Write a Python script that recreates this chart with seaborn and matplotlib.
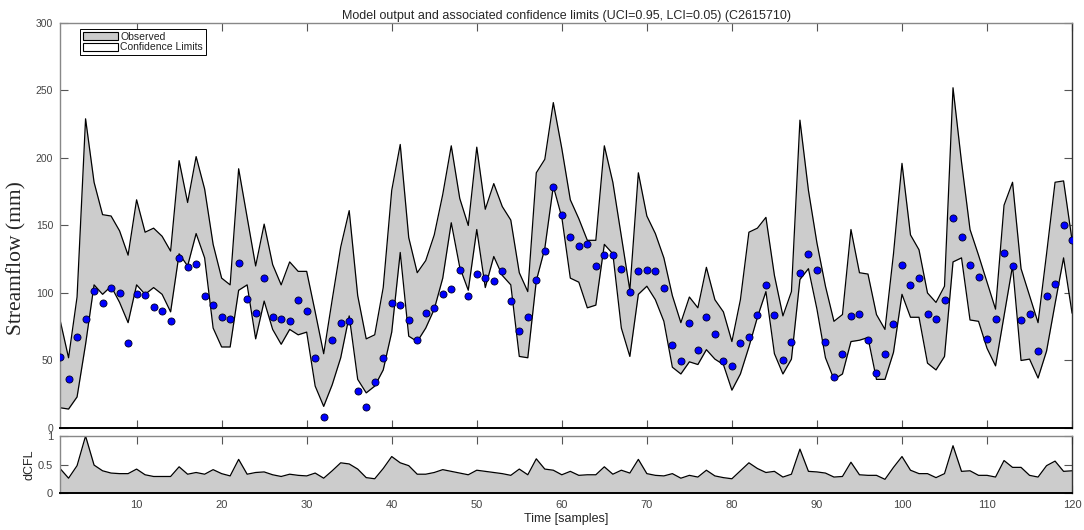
import numpy as np
import pandas as pd
import seaborn as sns
import matplotlib
matplotlib.use("Agg")
import matplotlib.pyplot as plt
from matplotlib.patches import Patch

# values (samples 1..120)
upper = [80, 52, 97, 229, 182, 158, 157, 146, 128, 169,
         145, 148, 142, 131, 198, 167, 201, 177, 136, 111,
         106, 192, 156, 120, 151, 121, 106, 123, 116, 116,
         86, 55, 95, 134, 161, 98, 66, 69, 104, 176,
         210, 141, 115, 124, 143, 173, 209, 170, 150, 208,
         162, 181, 164, 154, 115, 101, 189, 199, 241, 207,
         169, 155, 139, 139, 209, 182, 142, 102, 189, 157,
         144, 126, 98, 78, 97, 89, 119, 95, 86, 64,
         95, 145, 148, 156, 113, 83, 101, 228, 176, 137,
         105, 79, 84, 147, 115, 114, 84, 73, 129, 196,
         143, 132, 100, 93, 105, 252, 197, 147, 128, 108,
         88, 165, 182, 118, 98, 78, 129, 182, 183, 139]

lower = [15, 14, 23, 62, 106, 99, 105, 93, 78, 106,
         99, 104, 99, 86, 129, 120, 144, 126, 74, 60,
         60, 102, 106, 66, 94, 73, 62, 73, 69, 71,
         31, 16, 32, 52, 83, 36, 26, 31, 43, 71,
         130, 68, 64, 74, 88, 111, 152, 119, 102, 147,
         104, 127, 113, 106, 53, 52, 109, 133, 179, 156,
         111, 108, 89, 91, 136, 129, 74, 53, 99, 105,
         95, 79, 45, 40, 49, 47, 58, 51, 47, 28,
         40, 60, 82, 101, 55, 40, 51, 110, 118, 88,
         52, 36, 40, 64, 65, 67, 36, 36, 56, 99,
         82, 82, 48, 43, 53, 123, 126, 80, 79, 59,
         46, 83, 120, 50, 51, 37, 57, 92, 126, 85]

observed = [52.5, 36.6, 67.3, 80.4, 101.2, 92.3, 103.7, 99.8, 63.1, 99,
            98.8, 89.9, 86.4, 79, 125.7, 119, 121.3, 98, 91.3, 82.4,
            81, 122.5, 95.3, 85.1, 111.4, 82.4, 81, 79.5, 94.8, 86.6,
            51.5, 8.2, 65.1, 78, 79.2, 27.2, 15.6, 33.9, 51.5, 92.3,
            90.8, 80, 65.1, 84.9, 88.6, 99, 102.7, 116.8, 97.8, 114.4,
            110.9, 108.7, 116.6, 94, 71.8, 82.4, 109.7, 131.2, 178.7, 157.4,
            141.8, 134.7, 136.4, 120, 128, 128, 118, 100.7, 116.1, 117.1,
            116.1, 103.7, 61.6, 49.8, 78, 57.4, 81.9, 69.3, 49.8, 45.8,
            63.1, 67.6, 83.9, 105.9, 83.9, 50, 63.9, 115.1, 128.7, 116.8,
            63.6, 38.1, 54.7, 82.9, 84.7, 65.3, 40.6, 54.7, 77, 121,
            106.2, 111.4, 84.2, 80.9, 94.6, 155.7, 141.3, 121, 112.1, 66.1,
            80.7, 129.5, 120, 80.2, 84.4, 56.9, 98, 106.9, 150.2, 139.4]

dcfl = [0.43, 0.26, 0.48, 1.0, 0.49, 0.39, 0.35, 0.34, 0.34, 0.42,
        0.32, 0.29, 0.29, 0.29, 0.46, 0.33, 0.36, 0.33, 0.41, 0.34,
        0.30, 0.59, 0.33, 0.36, 0.37, 0.32, 0.29, 0.33, 0.31, 0.30,
        0.35, 0.26, 0.39, 0.53, 0.51, 0.42, 0.27, 0.25, 0.43, 0.64,
        0.53, 0.48, 0.33, 0.33, 0.36, 0.41, 0.38, 0.35, 0.32, 0.40,
        0.38, 0.36, 0.34, 0.31, 0.42, 0.32, 0.60, 0.42, 0.40, 0.32,
        0.38, 0.31, 0.32, 0.32, 0.46, 0.33, 0.40, 0.35, 0.59, 0.34,
        0.31, 0.30, 0.34, 0.26, 0.31, 0.28, 0.40, 0.30, 0.27, 0.25,
        0.39, 0.53, 0.43, 0.36, 0.38, 0.28, 0.33, 0.77, 0.38, 0.37,
        0.35, 0.28, 0.29, 0.54, 0.32, 0.31, 0.31, 0.24, 0.45, 0.64,
        0.40, 0.34, 0.34, 0.27, 0.34, 0.83, 0.38, 0.39, 0.31, 0.31,
        0.28, 0.57, 0.45, 0.45, 0.31, 0.28, 0.48, 0.56, 0.38, 0.39]

samples = np.arange(1, len(upper) + 1)
df = pd.DataFrame({"t": samples, "upper": upper, "lower": lower,
                   "obs": observed, "dcfl": dcfl})

sns.set_style("ticks")
plt.rcParams["font.family"] = ["Liberation Sans", "DejaVu Sans"]

fig = plt.figure(figsize=(10.84, 5.30), dpi=100)
ax = fig.add_axes([0.0554, 0.1925, 0.9336, 0.7642])
ax2 = fig.add_axes([0.0554, 0.0698, 0.9336, 0.1075])

grey = "#cccccc"

# top panel: confidence band + observations
ax.fill_between(df["t"], df["lower"], df["upper"], color=grey, lw=0)
sns.lineplot(data=df, x="t", y="upper", ax=ax, color="black", lw=0.9)
sns.lineplot(data=df, x="t", y="lower", ax=ax, color="black", lw=0.9)
sns.scatterplot(data=df, x="t", y="obs", ax=ax, color="#0000ff",
                edgecolor="#000022", linewidth=0.6, s=26, zorder=5)

ax.set_xlim(1, 120)
ax.set_ylim(0, 300)
ax.set_xticks(range(10, 121, 10))
ax.set_xticklabels([])
ax.set_yticks(range(0, 301, 50))
ax.set_xlabel("")
ax.set_ylabel("Streamflow (mm)", family=["Liberation Serif"], fontsize=15.5)
ax.yaxis.set_label_coords(-0.0336, 0.42)
ax.set_title("Model output and associated confidence limits (UCI=0.95, LCI=0.05) (C2615710)",
             fontsize=9, pad=3)
ax.tick_params(direction="in", length=6, width=0.8, top=True, right=True,
               labelsize=7.5, labelcolor="#444444", color="#555555", pad=5)

handles = [Patch(facecolor=grey, edgecolor="black", lw=0.8, label="Observed"),
           Patch(facecolor="white", edgecolor="black", lw=0.8, label="Confidence Limits")]
leg = ax.legend(handles=handles, loc="upper left", bbox_to_anchor=(0.02, 0.985),
                borderaxespad=0, fontsize=7.5, handlelength=3.4, handleheight=0.8,
                handletextpad=0.2, labelspacing=0.05, borderpad=0.25,
                fancybox=False, framealpha=1)
leg.get_frame().set_edgecolor("black")
leg.get_frame().set_linewidth(0.7)
for t in leg.get_texts():
    t.set_color("#222222")

# bottom panel: dCFL
ax2.fill_between(df["t"], 0, df["dcfl"], color=grey, lw=0)
sns.lineplot(data=df, x="t", y="dcfl", ax=ax2, color="black", lw=0.9)
ax2.set_xlim(1, 120)
ax2.set_ylim(0, 1)
ax2.set_xticks(range(10, 121, 10))
ax2.set_yticks([0, 0.5, 1])
ax2.set_yticklabels(["0", "0.5", "1"])
ax2.set_xlabel("Time [samples]", fontsize=9, labelpad=2)
ax2.set_ylabel("dCFL", fontsize=9, labelpad=2)
ax2.tick_params(direction="in", length=6, width=0.8, top=True, right=True,
                labelsize=8, labelcolor="#444444", color="#555555", pad=5)

for a in (ax, ax2):
    a.spines["left"].set_color("#888888")
    a.spines["top"].set_color("#888888")
    a.spines["bottom"].set_color("black")
    a.spines["right"].set_color("#333333")
    a.spines["bottom"].set_linewidth(1.4)
    a.spines["right"].set_linewidth(1.0)
    a.spines["left"].set_linewidth(1.0)
    a.spines["top"].set_linewidth(1.0)
    a.spines["right"].set_visible(True)
    a.spines["top"].set_visible(True)

fig.savefig("out.png", dpi=100)
